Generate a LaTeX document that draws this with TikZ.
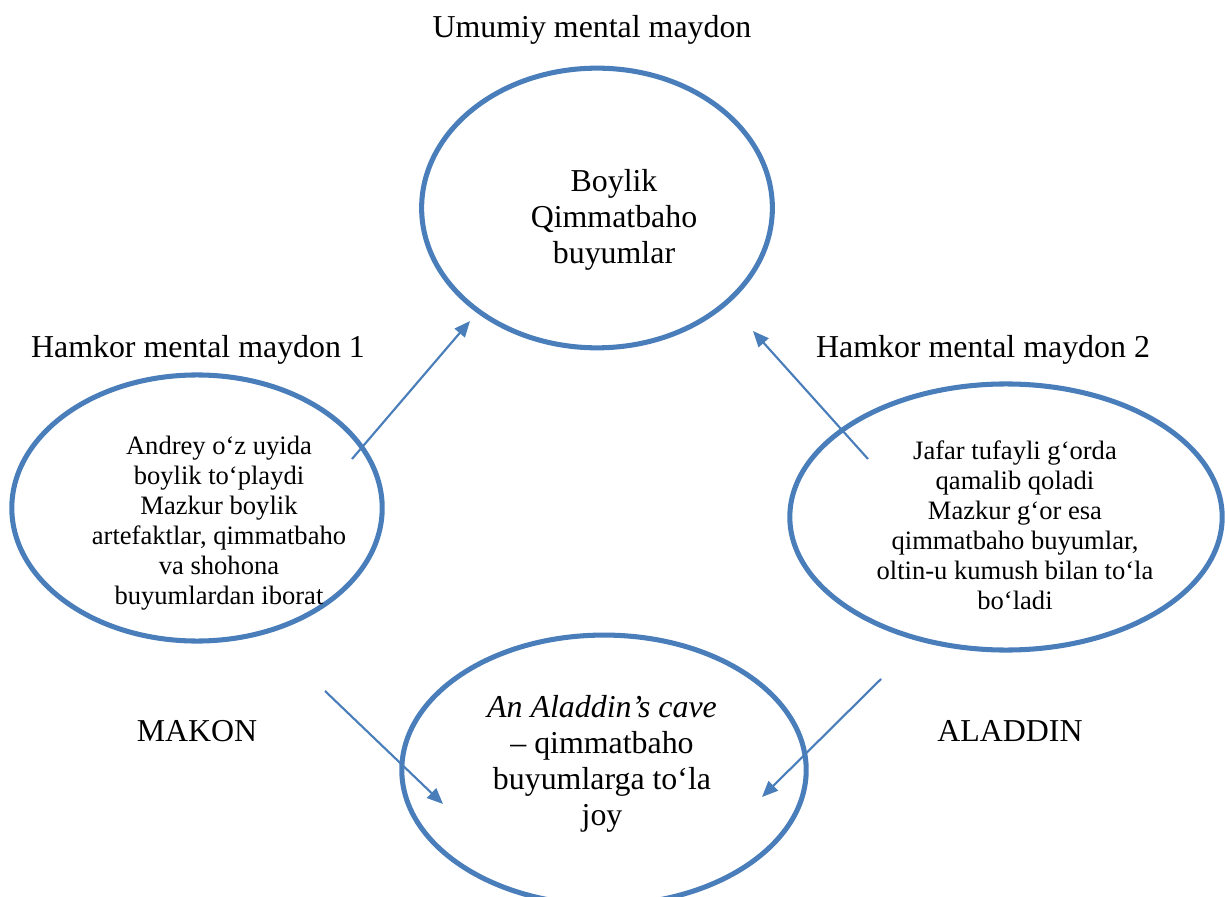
\documentclass[tikz,border=0pt]{standalone}
\usepackage{fontspec}
\setmainfont{Liberation Serif}
\usetikzlibrary{shapes.geometric, arrows.meta}
\definecolor{maydonblue}{RGB}{74,126,187}

\begin{document}
\begin{tikzpicture}[x=0.01323cm, y=-0.01323cm,
  maydon/.style={ellipse, draw=maydonblue, line width=1.9pt, inner sep=0pt},
  katta/.style={align=center, font=\fontsize{12}{13.6}\selectfont},
  kichik/.style={align=center, font=\fontsize{10}{11.3}\selectfont},
  strelka/.style={draw=maydonblue, line width=0.8pt, -{Triangle[length=6pt,width=5pt]}}]
  \useasboundingbox (0,0) rectangle (1225,897);
  \clip (0,0) rectangle (1225,897);

  % Mental maydonlar
  \node[maydon, minimum width=4.64cm, minimum height=3.70cm] (umumiy) at (597,208) {};
  \node[maydon, minimum width=4.90cm, minimum height=3.52cm] (hamkor1) at (197,508) {};
  \node[maydon, minimum width=5.72cm, minimum height=3.52cm] (hamkor2) at (1006,517) {};
  \node[maydon, minimum width=5.35cm, minimum height=3.57cm] (natija) at (604,770) {};

  % Sarlavhalar
  \node[katta] (lumumiy) at (592,30) {Umumiy mental maydon};
  \node[katta] (lhamkor1) at (198,350) {Hamkor mental maydon 1};
  \node[katta] (lhamkor2) at (983,350) {Hamkor mental maydon 2};
  \node[katta] (makon) at (197,731) {MAKON};
  \node[katta] (aladdin) at (1010,731) {ALADDIN};

  % Ichki matnlar
  \node[katta] (tumumiy) at (614,220) {Boylik\\Qimmatbaho\\buyumlar};
  \node[kichik] (thamkor1) at (219,523) {Andrey o‘z uyida\\boylik to‘playdi\\Mazkur boylik\\artefaktlar, qimmatbaho\\va shohona\\buyumlardan iborat};
  \node[kichik] (thamkor2) at (1015,525) {Jafar tufayli g‘orda\\qamalib qoladi\\Mazkur g‘or esa\\qimmatbaho buyumlar,\\oltin-u kumush bilan to‘la\\bo‘ladi};
  \node[katta] (tnatija) at (602,764) {\textit{An Aladdin’s cave}\\– qimmatbaho\\buyumlarga to‘la\\joy};

  % Strelkalar
  \coordinate (s1) at (352,459);  \coordinate (u1) at (470,321);
  \coordinate (s2) at (868,459);  \coordinate (u2) at (753,331);
  \coordinate (s3) at (325,691);  \coordinate (u3) at (443,804);
  \coordinate (s4) at (881,679);  \coordinate (u4) at (762,797);
  \foreach \i in {1,2,3,4} {
    \draw[strelka] (s\i) -- (u\i);
  }
\end{tikzpicture}
\end{document}
